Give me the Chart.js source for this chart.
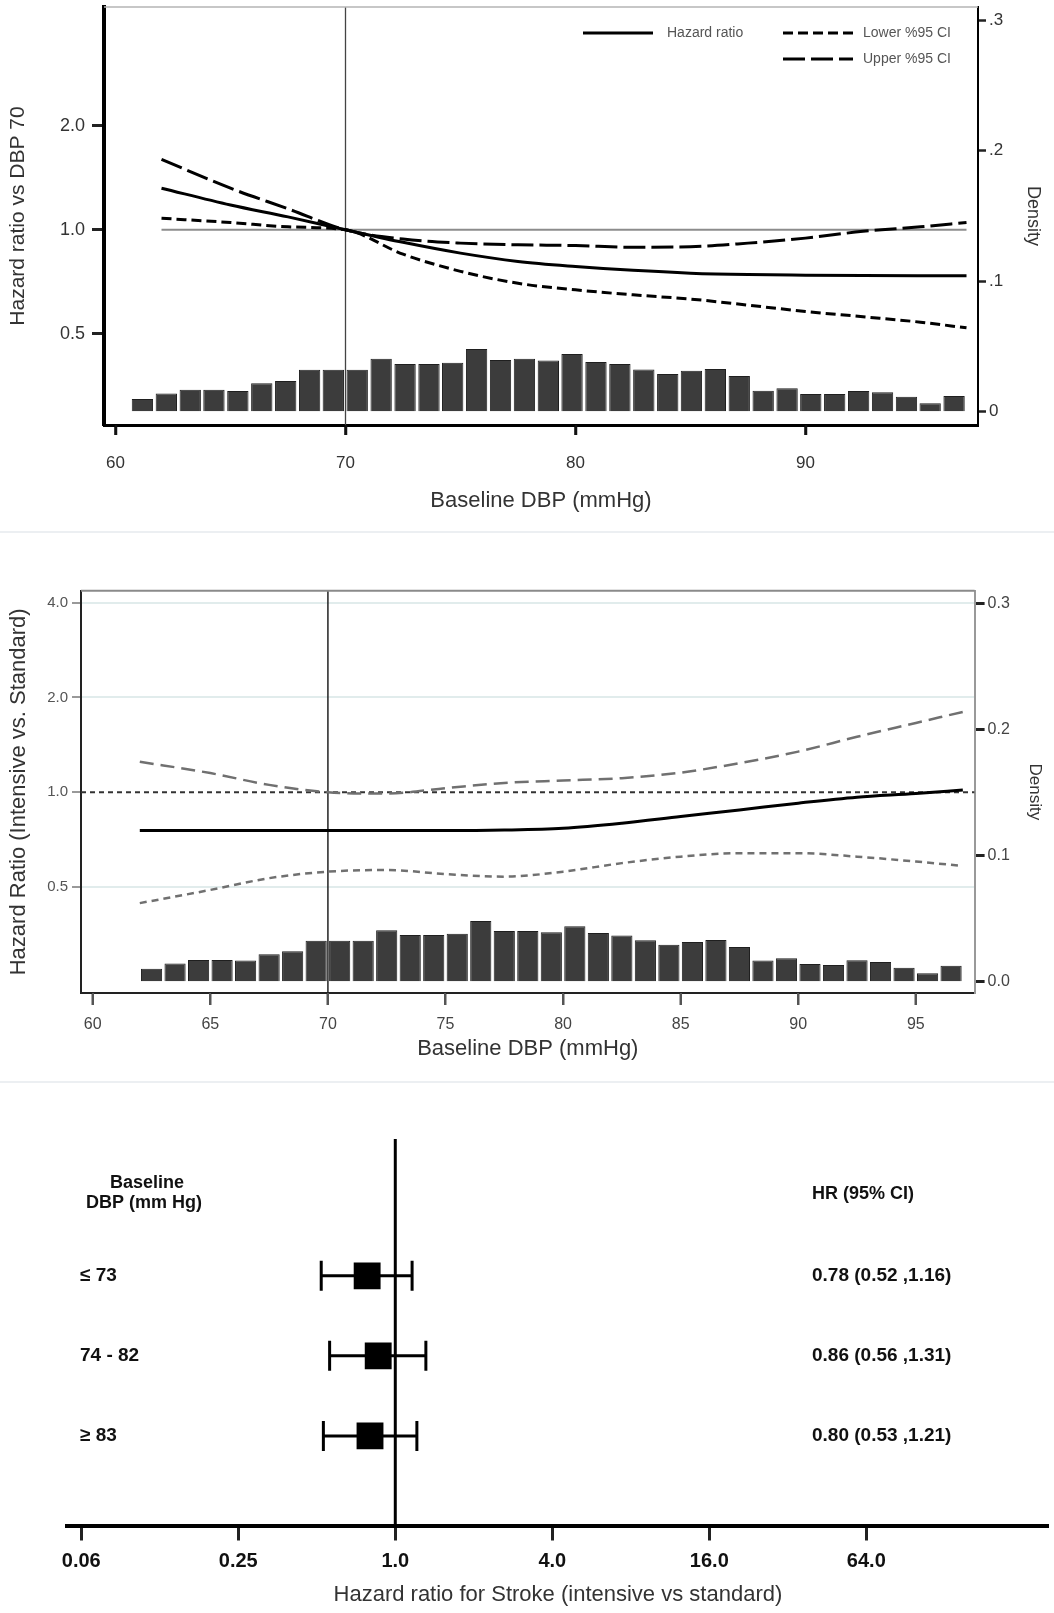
<!DOCTYPE html>
<html>
<head>
<meta charset="utf-8">
<script src="https://cdn.jsdelivr.net/npm/chart.js@4.4.1/dist/chart.umd.min.js"></script>
<style>
html,body{margin:0;padding:0;background:#fff;}
#wrap{position:relative;width:1054px;height:1613px;overflow:hidden;background:#fff;}
canvas{position:absolute;left:0;}
.sep{position:absolute;left:0;width:1054px;height:2px;background:#eceff2;}
</style>
</head>
<body>
<div id="wrap">
  <canvas id="cA" width="1054" height="530" style="top:0px;width:1054px;height:530px"></canvas>
  <div class="sep" style="top:531px"></div>
  <canvas id="cB" width="1054" height="535" style="top:540px;width:1054px;height:535px"></canvas>
  <div class="sep" style="top:1081px"></div>
  <canvas id="cC" width="1054" height="528" style="top:1085px;width:1054px;height:528px"></canvas>
</div>
<script>
// ================= DATA =================
// Panel A: Hazard ratio vs DBP 70
const dbpA   = [62, 65, 67.5, 70, 72.5, 75, 77.5, 80, 82.5, 85, 87.5, 90, 92.5, 95, 97];
const hrA    = [1.32, 1.18, 1.09, 1.0, 0.92, 0.856, 0.81, 0.783, 0.763, 0.749, 0.742, 0.739, 0.737, 0.736, 0.736];
const lowerA = [1.08, 1.05, 1.02, 1.0, 0.85, 0.758, 0.70, 0.67, 0.648, 0.63, 0.605, 0.58, 0.56, 0.54, 0.52];
const upperA = [1.60, 1.32, 1.15, 1.0, 0.94, 0.915, 0.905, 0.90, 0.89, 0.893, 0.915, 0.946, 0.99, 1.02, 1.05];
const histXA = [61.17, 62.21, 63.25, 64.28, 65.32, 66.36, 67.40, 68.44, 69.47, 70.51, 71.55, 72.59, 73.63, 74.66, 75.70,
                76.74, 77.78, 78.82, 79.85, 80.89, 81.93, 82.97, 84.01, 85.04, 86.08, 87.12, 88.16, 89.20, 90.23, 91.27,
                92.31, 93.35, 94.39, 95.42, 96.46];
const histA  = [0.0097, 0.0140, 0.0168, 0.0168, 0.0158, 0.0217, 0.0235, 0.0322, 0.0322, 0.0322, 0.0406, 0.0365, 0.0365, 0.0375, 0.0480,
                0.0396, 0.0406, 0.0393, 0.0442, 0.0380, 0.0365, 0.0324, 0.0288, 0.0314, 0.0327, 0.0273, 0.0161, 0.0179, 0.0135, 0.0135,
                0.0158, 0.0148, 0.0115, 0.0064, 0.0120];
const refXA  = [62, 97];
const xTicksA = [60, 70, 80, 90];
const hrTicksA = [0.5, 1, 2];
const hrTickLabelsA = ['0.5', '1.0', '2.0'];
const densTicksA = [0, 0.1, 0.2, 0.3];
const densTickLabelsA = ['0', '.1', '.2', '.3'];

// Panel B: Hazard Ratio (Intensive vs. Standard)
const dbpB   = [62, 65, 67.5, 70, 72.5, 75, 77.5, 80, 82.5, 85, 87.5, 90, 92.5, 95, 97];
const hrB    = [0.755, 0.755, 0.755, 0.755, 0.755, 0.755, 0.758, 0.768, 0.797, 0.837, 0.878, 0.923, 0.964, 0.99, 1.017];
const upperB = [1.25, 1.15, 1.055, 1.0, 0.99, 1.03, 1.07, 1.089, 1.108, 1.154, 1.237, 1.346, 1.50, 1.66, 1.80];
const lowerB = [0.444, 0.489, 0.533, 0.559, 0.566, 0.549, 0.539, 0.559, 0.595, 0.624, 0.64, 0.64, 0.624, 0.602, 0.583];
const histXB = [62.5, 63.5, 64.5, 65.5, 66.5, 67.5, 68.5, 69.5, 70.5, 71.5, 72.5, 73.5, 74.5, 75.5, 76.5,
                77.5, 78.5, 79.5, 80.5, 81.5, 82.5, 83.5, 84.5, 85.5, 86.5, 87.5, 88.5, 89.5, 90.5, 91.5,
                92.5, 93.5, 94.5, 95.5, 96.5];
const histB  = [0.0103, 0.0143, 0.0172, 0.0172, 0.0167, 0.0217, 0.0241, 0.0325, 0.0325, 0.0325, 0.0407, 0.0370, 0.0370, 0.0380, 0.0481,
                0.0402, 0.0402, 0.0391, 0.0439, 0.0386, 0.0365, 0.0328, 0.0293, 0.0315, 0.0330, 0.0275, 0.0167, 0.0185, 0.0140, 0.0132,
                0.0169, 0.0156, 0.0111, 0.0066, 0.0127];
const refXB  = [59.5, 97.5];
const xTicksB = [60, 65, 70, 75, 80, 85, 90, 95];
const hrTicksB = [0.5, 1, 2, 4];
const hrTickLabelsB = ['0.5', '1.0', '2.0', '4.0'];
const densTicksB = [0, 0.1, 0.2, 0.3];
const densTickLabelsB = ['0.0', '0.1', '0.2', '0.3'];

const refDBP = 70;

// Panel C: forest plot
const forestGroups = ['\u2264 73', '74 - 82', '\u2265 83'];
const forestHR = [0.78, 0.86, 0.80];
const forestLo = [0.52, 0.56, 0.53];
const forestHi = [1.16, 1.31, 1.21];
const forestTicks = [0.0625, 0.25, 1, 4, 16, 64];
const forestTickLabels = ['0.06', '0.25', '1.0', '4.0', '16.0', '64.0'];
const forestHeader = ['Baseline', 'DBP (mm Hg)'];
const forestCIHeader = 'HR (95% CI)';

// ================= HELPERS =================
const FONT = "'Liberation Sans', Arial, Helvetica, sans-serif";
const pts = (xs, ys) => xs.map((x, i) => ({x: x, y: ys[i]}));
const setTicks = vals => s => { s.ticks = vals.map(v => ({value: v})); };
const fixSize = (prop, size) => s => { s[prop] = size; s.paddingTop = 0; s.paddingBottom = 0; s.paddingLeft = 0; s.paddingRight = 0; };
const labelFrom = (vals, labels) => v => { const i = vals.findIndex(t => Math.abs(t - v) < 1e-9); return i >= 0 ? labels[i] : ''; };
const baseOpts = pad => ({
  responsive: false, animation: false, devicePixelRatio: 1,
  layout: {padding: pad, autoPadding: false},
  plugins: {legend: {display: false}, tooltip: {enabled: false}},
  elements: {point: {radius: 0}}
});
// draws outward tick marks under the x axis at the scale's tick values
function drawXTickMarks(chart, vals, len, width, color) {
  const {ctx, chartArea: a} = chart; const xs = chart.scales.x;
  ctx.save(); ctx.strokeStyle = color; ctx.lineWidth = width; ctx.setLineDash([]);
  vals.forEach(v => {
    const px = Math.round(xs.getPixelForValue(v));
    ctx.beginPath(); ctx.moveTo(px, a.bottom); ctx.lineTo(px, a.bottom + len); ctx.stroke();
  });
  ctx.restore();
}

// ================= PANEL A =================
const yMinA = 0.272, yMaxA = 4.42;
const frameA = {
  id: 'frameA',
  afterDraw(chart) {
    const {ctx, chartArea: a} = chart;
    ctx.save();
    ctx.strokeStyle = '#b5b5b5'; ctx.lineWidth = 1.5;
    ctx.beginPath(); ctx.moveTo(a.left, a.top); ctx.lineTo(a.right, a.top); ctx.stroke();
    // legend
    const ds = chart.data.datasets;
    const items = [{d: 0, x1: 583, x2: 653, y: 33, tx: 667}, {d: 1, x1: 783, x2: 853, y: 33, tx: 863}, {d: 2, x1: 783, x2: 853, y: 59, tx: 863}];
    ctx.font = '14px ' + FONT; ctx.fillStyle = '#555'; ctx.textBaseline = 'middle'; ctx.textAlign = 'left';
    items.forEach(it => {
      const d = ds[it.d];
      ctx.strokeStyle = '#000'; ctx.lineWidth = 3; ctx.setLineDash(d.borderDash || []);
      ctx.beginPath(); ctx.moveTo(it.x1, it.y); ctx.lineTo(it.x2, it.y); ctx.stroke();
      ctx.setLineDash([]);
      ctx.fillText(d.label, it.tx, it.y);
    });
    ctx.restore();
    drawXTickMarks(chart, xTicksA, 10, 2.5, '#111');
  }
};
const lineA = {borderColor: '#000', borderWidth: 3, pointRadius: 0, cubicInterpolationMode: 'monotone', yAxisID: 'y', order: 1};
new Chart(document.getElementById('cA'), {
  type: 'line',
  data: {datasets: [
    Object.assign({label: 'Hazard ratio', data: pts(dbpA, hrA)}, lineA),
    Object.assign({label: 'Lower %95 CI', data: pts(dbpA, lowerA), borderDash: [10, 5]}, lineA),
    Object.assign({label: 'Upper %95 CI', data: pts(dbpA, upperA), borderDash: [22, 6]}, lineA),
    {label: 'HR = 1', data: pts(refXA, [1, 1]), borderColor: '#8c8c8c', borderWidth: 2, pointRadius: 0, yAxisID: 'y', order: 3},
    {label: 'DBP 70', data: [{x: refDBP, y: yMinA}, {x: refDBP, y: yMaxA}], borderColor: '#444', borderWidth: 1.3, pointRadius: 0, yAxisID: 'y', order: 2},
    {type: 'bar', label: 'Density', data: pts(histXA, histA), yAxisID: 'y2', backgroundColor: '#3c3c3c', borderColor: '#1f1f1f',
     borderWidth: 1, barPercentage: 0.9, categoryPercentage: 1, order: 10}
  ]},
  options: Object.assign(baseOpts({top: 7, left: 0, right: 0, bottom: 0}), {
    scales: {
      x: {type: 'linear', min: 59.5, max: 97.5, offset: false, bounds: 'data',
          afterBuildTicks: setTicks(xTicksA), afterFit: fixSize('height', 105),
          grid: {display: true, offset: false, drawOnChartArea: false, drawTicks: true, tickLength: 10, tickWidth: 2.5, tickColor: '#111'},
          border: {display: true, color: '#000', width: 3},
          ticks: {font: {family: FONT, size: 17}, color: '#333', padding: 18, autoSkip: false, maxRotation: 0, callback: labelFrom(xTicksA, xTicksA.map(String))},
          title: {display: true, text: 'Baseline DBP (mmHg)', font: {family: FONT, size: 22}, color: '#333', padding: {top: 0, bottom: 16}}},
      y: {type: 'logarithmic', position: 'left', min: yMinA, max: yMaxA, bounds: 'data',
          afterBuildTicks: setTicks(hrTicksA), afterFit: fixSize('width', 104),
          grid: {display: true, drawOnChartArea: false, drawTicks: true, tickLength: 12, tickWidth: 3, tickColor: '#222'},
          border: {display: true, color: '#000', width: 4},
          ticks: {font: {family: FONT, size: 18}, color: '#333', padding: 7, autoSkip: false, callback: labelFrom(hrTicksA, hrTickLabelsA)},
          title: {display: true, text: 'Hazard ratio vs DBP 70', font: {family: FONT, size: 21}, color: '#333', padding: {top: 6, bottom: 0}}},
      y2: {type: 'linear', position: 'right', min: -0.0102, max: 0.31, bounds: 'data',
          afterBuildTicks: setTicks(densTicksA), afterFit: fixSize('width', 76),
          grid: {display: true, drawOnChartArea: false, drawTicks: true, tickLength: 8, tickWidth: 2.5, tickColor: '#222'},
          border: {display: true, color: '#000', width: 2},
          ticks: {font: {family: FONT, size: 17}, color: '#333', padding: 3, autoSkip: false, callback: labelFrom(densTicksA, densTickLabelsA)},
          title: {display: true, text: 'Density', font: {family: FONT, size: 18}, color: '#333', padding: {top: 10, bottom: 0}}}
    }
  }),
  plugins: [frameA]
});

// ================= PANEL B =================
const yMinB = 0.230, yMaxB = 4.37;
const frameB = {
  id: 'frameB',
  afterDraw(chart) {
    const {ctx, chartArea: a} = chart;
    ctx.save();
    ctx.strokeStyle = '#8a8a8a'; ctx.lineWidth = 2;
    ctx.beginPath(); ctx.moveTo(a.left, a.top); ctx.lineTo(a.right, a.top); ctx.stroke();
    ctx.restore();
    drawXTickMarks(chart, xTicksB, 12, 2, '#555');
  }
};
new Chart(document.getElementById('cB'), {
  type: 'line',
  data: {datasets: [
    {label: 'Hazard ratio', data: pts(dbpB, hrB), borderColor: '#000', borderWidth: 3, pointRadius: 0, cubicInterpolationMode: 'monotone', yAxisID: 'y', order: 1},
    {label: 'Upper 95% CI', data: pts(dbpB, upperB), borderColor: '#707070', borderWidth: 2.5, borderDash: [14, 7], pointRadius: 0, cubicInterpolationMode: 'monotone', yAxisID: 'y', order: 1},
    {label: 'Lower 95% CI', data: pts(dbpB, lowerB), borderColor: '#707070', borderWidth: 2.5, borderDash: [7, 5], pointRadius: 0, cubicInterpolationMode: 'monotone', yAxisID: 'y', order: 1},
    {label: 'HR = 1', data: pts(refXB, [1, 1]), borderColor: '#333', borderWidth: 2, borderDash: [5, 4], pointRadius: 0, yAxisID: 'y', order: 3},
    {label: 'DBP 70', data: [{x: refDBP, y: yMinB}, {x: refDBP, y: yMaxB}], borderColor: '#222', borderWidth: 1.5, pointRadius: 0, yAxisID: 'y', order: 2},
    {type: 'bar', label: 'Density', data: pts(histXB, histB), yAxisID: 'y2', backgroundColor: '#3c3c3c', borderColor: '#1f1f1f',
     borderWidth: 1, barPercentage: 0.9, categoryPercentage: 1, order: 10}
  ]},
  options: Object.assign(baseOpts({top: 50.7, left: 0, right: 0, bottom: 0}), {
    scales: {
      x: {type: 'linear', min: 59.5, max: 97.5, offset: false, bounds: 'data',
          afterBuildTicks: setTicks(xTicksB), afterFit: fixSize('height', 82),
          grid: {display: true, offset: false, drawOnChartArea: false, drawTicks: true, tickLength: 12, tickWidth: 2, tickColor: '#555'},
          border: {display: true, color: '#222', width: 2},
          ticks: {font: {family: FONT, size: 16}, color: '#444', padding: 10, autoSkip: false, maxRotation: 0, callback: labelFrom(xTicksB, xTicksB.map(String))},
          title: {display: true, text: 'Baseline DBP (mmHg)', font: {family: FONT, size: 22}, color: '#333', padding: {top: 0, bottom: 13}}},
      y: {type: 'logarithmic', position: 'left', min: yMinB, max: yMaxB, bounds: 'data',
          afterBuildTicks: setTicks(hrTicksB), afterFit: fixSize('width', 81),
          grid: {display: true, drawOnChartArea: true, drawTicks: true, tickLength: 9, tickWidth: 1.5, tickColor: '#777',
                 color: c => (c.tick && Math.abs(c.tick.value - 1) < 1e-9) ? 'rgba(0,0,0,0)' : '#e1ecec', lineWidth: 2},
          border: {display: true, color: '#222', width: 2},
          ticks: {font: {family: FONT, size: 15}, color: '#555', padding: 4, autoSkip: false, callback: labelFrom(hrTicksB, hrTickLabelsB)},
          title: {display: true, text: 'Hazard Ratio (Intensive vs. Standard)', font: {family: FONT, size: 22}, color: '#333', padding: {top: 6, bottom: 0}}},
      y2: {type: 'linear', position: 'right', min: -0.009, max: 0.31, bounds: 'data',
          afterBuildTicks: setTicks(densTicksB), afterFit: fixSize('width', 79.4),
          grid: {display: true, drawOnChartArea: false, drawTicks: true, tickLength: 10, tickWidth: 3, tickColor: '#222'},
          border: {display: true, color: '#999', width: 2},
          ticks: {font: {family: FONT, size: 16}, color: '#444', padding: 3, autoSkip: false, callback: labelFrom(densTicksB, densTickLabelsB)},
          title: {display: true, text: 'Density', font: {family: FONT, size: 17}, color: '#333', padding: {top: 9, bottom: 0}}}
    }
  }),
  plugins: [frameB]
});

// ================= PANEL C (forest) =================
const rowMin = -0.71, rowMax = 4.12;
const ciText = i => forestHR[i].toFixed(2) + ' (' + forestLo[i].toFixed(2) + ' ,' + forestHi[i].toFixed(2) + ')';
const forestText = {
  id: 'forestText',
  afterDraw(chart) {
    const {ctx} = chart; const ys = chart.scales.y;
    ctx.save();
    ctx.fillStyle = '#111'; ctx.textBaseline = 'middle';
    ctx.font = 'bold 18px ' + FONT;
    ctx.textAlign = 'center';
    ctx.fillText(forestHeader[0], 147, ys.getPixelForValue(-0.16));
    ctx.fillText(forestHeader[1], 144, ys.getPixelForValue(0.09));
    ctx.textAlign = 'left';
    ctx.fillText(forestCIHeader, 812, ys.getPixelForValue(-0.02));
    ctx.font = 'bold 19px ' + FONT;
    forestGroups.forEach((g, i) => {
      const y = ys.getPixelForValue(i + 1);
      ctx.fillText(g, 80, y);
      ctx.fillText(ciText(i), 812, y);
    });
    ctx.restore();
  }
};
const forestSets = [
  {label: 'No effect', data: [{x: 1, y: rowMin}, {x: 1, y: rowMax}], borderColor: '#000', borderWidth: 3, pointRadius: 0, order: 3}
];
forestGroups.forEach((g, i) => {
  forestSets.push({label: g + ' CI', data: [{x: forestLo[i], y: i + 1}, {x: forestHi[i], y: i + 1}],
    borderColor: '#000', borderWidth: 3, pointStyle: 'line', pointRotation: 90, pointRadius: 15,
    pointBorderWidth: 3, pointBorderColor: '#000', order: 2});
});
forestSets.push({label: 'HR', data: forestHR.map((h, i) => ({x: h, y: i + 1})), showLine: false,
  pointStyle: 'rect', pointRadius: 19, pointBackgroundColor: '#000', pointBorderColor: '#000', pointBorderWidth: 0, order: 1});

new Chart(document.getElementById('cC'), {
  type: 'line',
  data: {datasets: forestSets},
  options: Object.assign(baseOpts({top: 54, left: 67.2, right: 5.4, bottom: 0}), {
    scales: {
      x: {type: 'logarithmic', min: 0.0552, max: 320, bounds: 'data',
          afterBuildTicks: setTicks(forestTicks), afterFit: fixSize('height', 87.5),
          grid: {display: true, drawOnChartArea: false, drawTicks: true, tickLength: 15, tickWidth: 3, tickColor: '#222'},
          border: {display: true, color: '#000', width: 4},
          ticks: {font: {family: FONT, size: 20, weight: 'bold'}, color: '#111', padding: 9, autoSkip: false, maxRotation: 0,
                  callback: labelFrom(forestTicks, forestTickLabels)},
          title: {display: true, text: 'Hazard ratio for Stroke (intensive vs standard)', font: {family: FONT, size: 22}, color: '#333', padding: {top: 0, bottom: 5}}},
      y: {type: 'linear', display: false, reverse: true, min: rowMin, max: rowMax}
    }
  }),
  plugins: [forestText]
});
</script>
</body>
</html>
